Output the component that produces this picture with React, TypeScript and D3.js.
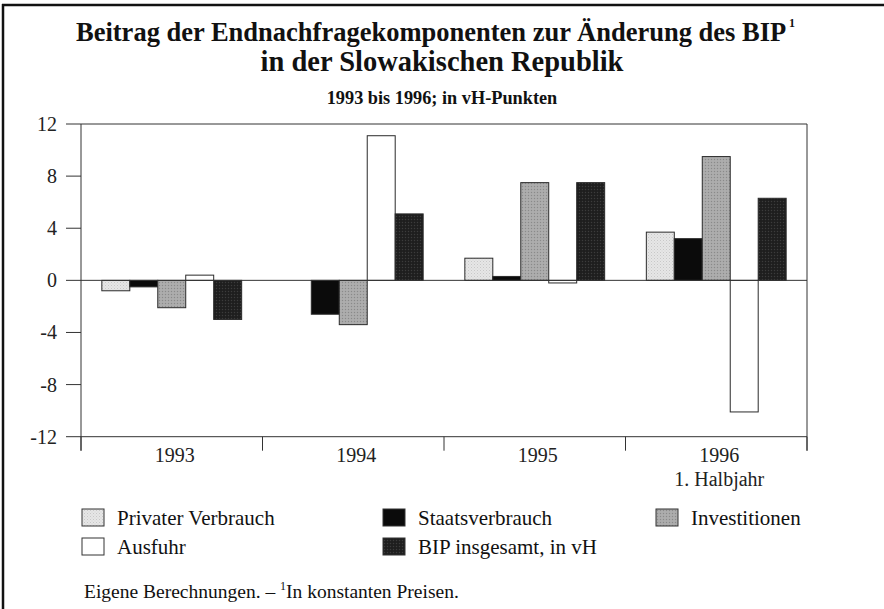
import React from "react";
import * as d3 from "d3";

const categories = ["1993", "1994", "1995", "1996"];
const categorySub = ["", "", "", "1. Halbjahr"];
const seriesKeys = ["privat", "staat", "invest", "ausfuhr", "bip"];
const seriesLabels = ["Privater Verbrauch", "Staatsverbrauch", "Investitionen", "Ausfuhr", "BIP insgesamt, in vH"];
const privater = [-0.8, 0, 1.7, 3.7];
const staats = [-0.5, -2.6, 0.3, 3.2];
const invest = [-2.1, -3.4, 7.5, 9.5];
const ausfuhr = [0.4, 11.1, -0.2, -10.1];
const bip = [-3.0, 5.1, 7.5, 6.3];
const yTicks = [-12, -8, -4, 0, 4, 8, 12];

const seriesValues = [privater, staats, invest, ausfuhr, bip];
const fills = ["url(#patPriv)", "#0b0b0b", "url(#patInv)", "#ffffff", "url(#patBip)"];

const W = 884;
const H = 609;
const FONT = "'Liberation Serif', 'Times New Roman', serif";

export default function App() {
  const left = 81, right = 807, top = 124, bottom = 436.7;
  const x = d3.scaleBand<string>().domain(categories).range([left, right]).paddingInner(0).paddingOuter(0);
  const x1 = d3.scaleBand<string>().domain(seriesKeys).range([0, x.bandwidth()]).paddingInner(0).paddingOuter(0.745);
  const y = d3.scaleLinear().domain([-12, 12]).range([bottom, top]);

  const boundaries = categories.map((c) => x(c) as number).concat([right]);

  const legendItems = [
    { i: 0, x: 82, y: 509 },
    { i: 1, x: 383, y: 509 },
    { i: 2, x: 656, y: 509 },
    { i: 3, x: 82, y: 538 },
    { i: 4, x: 383, y: 538 },
  ];

  return (
    <div style={{ position: "absolute", left: 0, top: 0, width: W, height: H, background: "#fff" }}>
      <svg width={W} height={H} viewBox={`0 0 ${W} ${H}`} style={{ display: "block" }}>
        <defs>
          <pattern id="patPriv" width="3" height="3" patternUnits="userSpaceOnUse">
            <rect width="3" height="3" fill="#e6e6e6" />
            <rect x="0" y="0" width="1" height="1" fill="#c8c8c8" />
            <rect x="1.5" y="1.5" width="1" height="1" fill="#d2d2d2" />
          </pattern>
          <pattern id="patInv" width="3" height="3" patternUnits="userSpaceOnUse">
            <rect width="3" height="3" fill="#a9a9a9" />
            <rect x="0" y="0" width="1" height="1" fill="#8a8a8a" />
            <rect x="1.5" y="1.5" width="1" height="1" fill="#bababa" />
          </pattern>
          <pattern id="patBip" width="3" height="3" patternUnits="userSpaceOnUse">
            <rect width="3" height="3" fill="#222" />
            <rect x="0" y="0" width="1" height="1" fill="#3c3c3c" />
            <rect x="1.5" y="1.5" width="1" height="1" fill="#111" />
          </pattern>
        </defs>
        <rect width={W} height={H} fill="#fff" />

        {/* outer frame (top and left only) */}
        <line x1={2} x2={W} y1={5} y2={5} stroke="#111" strokeWidth={2.5} />
        <line x1={3} x2={3} y1={4} y2={H} stroke="#111" strokeWidth={2.5} />

        {/* titles */}
        <text x={76} y={41} fontFamily={FONT} fontWeight="bold" fontSize={26.5} fill="#111">
          Beitrag der Endnachfragekomponenten zur Änderung des BIP
        </text>
        <text x={789} y={27} fontFamily={FONT} fontWeight="bold" fontSize={12} fill="#111">1</text>
        <text x={442} y={71} textAnchor="middle" fontFamily={FONT} fontWeight="bold" fontSize={28.5} fill="#111">
          in der Slowakischen Republik
        </text>
        <text x={442} y={104} textAnchor="middle" fontFamily={FONT} fontWeight="bold" fontSize={18.3} fill="#111">
          1993 bis 1996; in vH-Punkten
        </text>

        {/* bars */}
        {categories.map((c, ci) => (
          <g key={c}>
            {seriesKeys.map((k, si) => {
              const v = seriesValues[si][ci];
              if (v === 0) return null;
              const bx = (x(c) as number) + (x1(k) as number);
              const y0 = y(Math.max(0, v));
              const h = Math.abs(y(v) - y(0));
              return (
                <rect key={k} x={bx} y={y0} width={x1.bandwidth()} height={h}
                  fill={fills[si]} stroke="#2a2a2a" strokeWidth={1} />
              );
            })}
          </g>
        ))}

        {/* plot frame */}
        <line x1={left} x2={right} y1={top} y2={top} stroke="#333" strokeWidth={1} />
        <line x1={right} x2={right} y1={top} y2={bottom + 14} stroke="#333" strokeWidth={1} />
        <line x1={left} x2={left} y1={top} y2={bottom + 14} stroke="#333" strokeWidth={1} />
        <line x1={left} x2={right} y1={bottom} y2={bottom} stroke="#333" strokeWidth={1} />
        <line x1={left} x2={right} y1={y(0)} y2={y(0)} stroke="#333" strokeWidth={1} />

        {/* y axis */}
        {yTicks.map((t) => (
          <g key={t}>
            <line x1={left - 15} x2={left} y1={y(t)} y2={y(t)} stroke="#333" strokeWidth={1} />
            <text x={57} y={y(t) + 7} textAnchor="end" fontFamily={FONT} fontSize={20} fill="#222">
              {t}
            </text>
          </g>
        ))}

        {/* x axis dividers */}
        {boundaries.map((b, i) => (
          <line key={i} x1={b} x2={b} y1={bottom} y2={bottom + 14} stroke="#333" strokeWidth={1} />
        ))}
        {categories.map((c, i) => (
          <g key={c}>
            <text x={(x(c) as number) + x.bandwidth() / 2 + 3} y={462} textAnchor="middle" fontFamily={FONT} fontSize={20} fill="#222">
              {c}
            </text>
            {categorySub[i] && (
              <text x={(x(c) as number) + x.bandwidth() / 2 + 3} y={486} textAnchor="middle" fontFamily={FONT} fontSize={20} fill="#222">
                {categorySub[i]}
              </text>
            )}
          </g>
        ))}

        {/* legend */}
        {legendItems.map((it) => (
          <g key={it.i}>
            <rect x={it.x} y={it.y} width={22} height={17} fill={fills[it.i]} stroke="#333" strokeWidth={1} />
            <text x={it.x + 35} y={it.y + 16} fontFamily={FONT} fontSize={21} fill="#111">
              {seriesLabels[it.i]}
            </text>
          </g>
        ))}

        {/* footnote */}
        <text x={84} y={598} fontFamily={FONT} fontSize={19.5} fill="#111">
          Eigene Berechnungen. – <tspan fontSize={12} dy={-8}>1</tspan><tspan dy={8}>In konstanten Preisen.</tspan>
        </text>
      </svg>
    </div>
  );
}
